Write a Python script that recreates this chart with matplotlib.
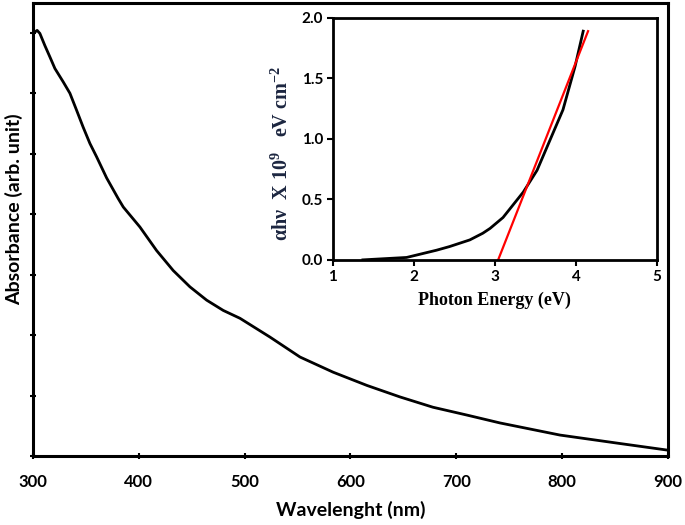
import numpy as np
import matplotlib
matplotlib.use("Agg")
import matplotlib.pyplot as plt

plt.rcParams["mathtext.fontset"] = "custom"
plt.rcParams["mathtext.rm"] = "Liberation Serif:bold"
plt.rcParams["mathtext.bf"] = "Liberation Serif:bold"

# Espectro de absorção
wavelength = [300.3, 304.0, 306.6, 311.3, 316.1, 320.8, 328.6, 335.0, 341.3, 347.5, 353.9,
              360.2, 369.7, 380.6, 385.4, 401.1, 416.9, 432.6, 448.4, 464.2, 479.9,
              495.7, 524.0, 552.4, 583.6, 615.7, 646.9, 678.0, 710.2, 741.4, 798.0,
              854.8, 900.0]
absorbance = [6.99, 7.04, 6.99, 6.79, 6.60, 6.41, 6.19, 6.00, 5.72, 5.44, 5.17,
              4.95, 4.60, 4.26, 4.12, 3.79, 3.40, 3.07, 2.80, 2.58, 2.41,
              2.28, 1.97, 1.64, 1.39, 1.17, 0.98, 0.81, 0.68, 0.55, 0.35,
              0.21, 0.10]

# Inset: Tauc plot
energy = [1.37, 1.91, 2.28, 2.44, 2.69, 2.85, 2.94, 3.10, 3.35, 3.52, 3.68, 3.84, 3.99, 4.09]
tauc = [0.0, 0.02, 0.08, 0.11, 0.165, 0.22, 0.26, 0.35, 0.56, 0.74, 0.99, 1.24, 1.60, 1.89]
fit_x = [3.04, 4.15]
fit_y = [0.0, 1.89]

sans = "Lato"
serif = "Liberation Serif"

fig = plt.figure(figsize=(6.85, 5.25), dpi=100)

ax = fig.add_axes([0.048, 0.131, 0.927, 0.863])
ax.plot(wavelength, absorbance, color="black", lw=2)
ax.set_xlim(300, 900)
ax.set_ylim(0, 7.49)
ax.set_xticks(range(300, 901, 100))
ax.set_yticks(range(0, 8))
ax.set_yticklabels([])
for lbl in ax.get_xticklabels():
    lbl.set_fontfamily(sans)
    lbl.set_fontweight("bold")
    lbl.set_fontsize(12)
ax.tick_params(direction="inout", length=5, width=1.5, pad=10)
for s in ax.spines.values():
    s.set_linewidth(2.2)
ax.set_xlabel("Wavelenght (nm)", fontfamily=sans, fontweight="bold", fontsize=14, labelpad=8)
ax.set_ylabel("Absorbance (arb. unit)", fontfamily=sans, fontweight="bold", fontsize=14)
ax.yaxis.set_label_coords(-0.016, 0.545)

# Inset
ins = fig.add_axes([0.486, 0.505, 0.473, 0.461])
ins.plot(energy, tauc, color="black", lw=2)
ins.plot(fit_x, fit_y, color="red", lw=1.6)
ins.set_xlim(1, 5)
ins.set_ylim(0, 2)
ins.set_xticks([1, 2, 3, 4, 5])
ins.set_yticks([0, 0.5, 1.0, 1.5, 2.0])
ins.set_yticklabels(["0.0", "0.5", "1.0", "1.5", "2.0"])
for lbl in ins.get_xticklabels() + ins.get_yticklabels():
    lbl.set_fontfamily(sans)
    lbl.set_fontweight("bold")
    lbl.set_fontsize(11)
ins.tick_params(direction="out", length=4, width=1.5, pad=3)
for s in ins.spines.values():
    s.set_linewidth(2)
ins.set_xlabel("Photon Energy (eV)", fontfamily=serif, fontweight="bold", fontsize=13, labelpad=6)
ins.set_ylabel("αhν  X 10$^{9}$   eV cm$^{\\mathbf{-2}}$",
               fontfamily=serif, fontweight="bold", fontsize=14.5, color="#1c2640")
ins.yaxis.set_label_coords(-0.125, 0.44)

fig.savefig("out.png", dpi=100)
